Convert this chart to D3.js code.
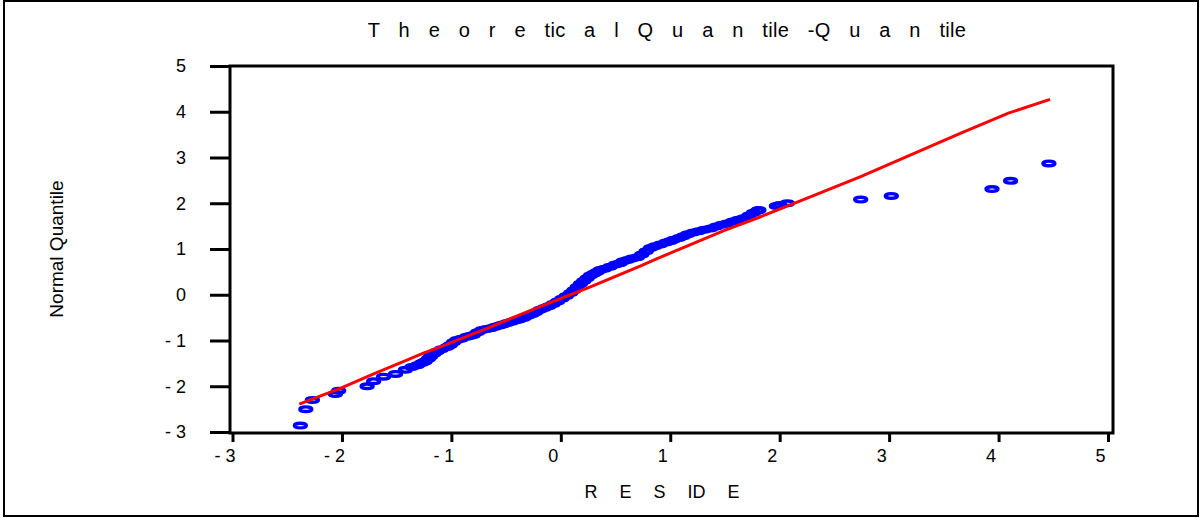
<!DOCTYPE html>
<html lang="en">
<head>
<meta charset="utf-8">
<title>Theoretical Quantile-Quantile</title>
<script src="https://d3js.org/d3.v7.min.js"></script>
<style>
  body { margin: 0; background: #fff; }
  text { font-family: "Liberation Sans", Arial, sans-serif; fill: #000; }
</style>
</head>
<body>
<script>
// residuals (x) and normal quantiles (y)
var resid = [-2.38,-2.33,-2.27,-2.06,-2.03,-1.77,-1.71,-1.62,-1.51,-1.42,-1.36,-1.31,-1.27,-1.24,-1.21,-1.19,-1.16,-1.13,-1.09,-1.04,-1.01,
  -0.98,-0.95,-0.91,-0.86,-0.83,-0.80,-0.76,-0.72,-0.68,-0.64,-0.60,-0.56,-0.53,-0.49,-0.45,-0.41,-0.38,-0.34,-0.30,-0.26,-0.23,-0.19,
  -0.15,-0.11,-0.07,-0.03,0.01,0.05,0.09,0.12,0.15,0.18,0.21,0.24,0.27,0.30,0.33,0.36,0.40,0.45,0.50,0.54,0.57,0.61,0.65,0.70,0.74,
  0.78,0.82,0.86,0.91,0.96,1.00,1.03,1.08,1.12,1.16,1.21,1.26,1.31,1.37,1.42,1.47,1.52,1.57,1.62,1.67,1.72,1.76,1.80,1.81,
  1.97,2.00,2.07,2.74,3.02,3.94,4.11,4.46];
var normq = [-2.86,-2.50,-2.30,-2.17,-2.10,-2.00,-1.89,-1.79,-1.73,-1.64,-1.58,-1.54,-1.49,-1.46,-1.40,-1.35,-1.29,-1.24,-1.19,-1.14,-1.10,
  -1.04,-0.99,-0.96,-0.92,-0.90,-0.88,-0.82,-0.77,-0.75,-0.73,-0.70,-0.67,-0.65,-0.62,-0.59,-0.56,-0.54,-0.51,-0.46,-0.42,-0.38,-0.33,
  -0.29,-0.25,-0.20,-0.15,-0.09,-0.03,0.04,0.10,0.17,0.24,0.30,0.36,0.42,0.46,0.50,0.54,0.57,0.61,0.66,0.69,0.73,0.76,0.79,0.82,0.88,
  0.95,1.02,1.06,1.10,1.14,1.17,1.20,1.24,1.28,1.32,1.36,1.39,1.42,1.45,1.49,1.53,1.56,1.60,1.64,1.67,1.73,1.79,1.84,1.85,
  1.94,1.96,2.00,2.08,2.16,2.31,2.49,2.87];

// reference line vertices
var lineX = [-2.39,-2.01,-1.71,-1.44,-1.25,-1.10,-0.64,-0.19,0.27,0.73,0.88,1.49,1.82,2.28,2.74,3.65,4.09,4.47];
var lineY = [-2.39,-2.04,-1.73,-1.46,-1.27,-1.14,-0.70,-0.26,0.17,0.63,0.79,1.40,1.70,2.14,2.58,3.53,3.97,4.27];

var xTicks = [-3,-2,-1,0,1,2,3,4,5];
var yTicks = [-3,-2,-1,0,1,2,3,4,5];

var width = 1200, height = 518;
var svg = d3.select("body").append("svg").attr("width", width).attr("height", height);

// outer border
svg.append("rect").attr("x", 4).attr("y", 1).attr("width", 1194).attr("height", 515)
  .attr("fill", "none").attr("stroke", "#000").attr("stroke-width", 2);

var x = d3.scaleLinear().domain([-3, 5]).range([232.5, 1108]);
var y = d3.scaleLinear().domain([-3, 5]).range([432, 66]);

var fmt = function(d) { return d < 0 ? "- " + Math.abs(d) : String(d); };

// x axis
var gx = svg.append("g").attr("transform", "translate(0,433)")
  .call(d3.axisBottom(x).tickValues(xTicks).tickSize(9).tickFormat(fmt));
gx.select(".domain").remove();
gx.selectAll("line").attr("stroke", "#000").attr("stroke-width", 3);
gx.selectAll("text").attr("x", -8).attr("y", 29).attr("dy", null)
  .attr("font-size", "18px").attr("font-family", "Liberation Sans, Arial, sans-serif");

// y axis
var gy = svg.append("g").attr("transform", "translate(230,0)")
  .call(d3.axisLeft(y).tickValues(yTicks).tickSize(20).tickFormat(fmt));
gy.select(".domain").remove();
gy.selectAll("line").attr("stroke", "#000").attr("stroke-width", 3);
gy.selectAll("text").attr("x", -44).attr("dy", "0.33em")
  .attr("font-size", "18px").attr("font-family", "Liberation Sans, Arial, sans-serif");

// points (open ovals)
var pts = resid.map(function(d, i) { return [d, normq[i]]; });
svg.append("g").selectAll("ellipse").data(pts).enter().append("ellipse")
  .attr("cx", function(d) { return x(d[0]); })
  .attr("cy", function(d) { return y(d[1]); })
  .attr("rx", 6).attr("ry", 2.3)
  .attr("fill", "none").attr("stroke", "#0000ff").attr("stroke-width", 3.4);

// reference line
var lpts = lineX.map(function(d, i) { return [d, lineY[i]]; });
svg.append("path").datum(lpts)
  .attr("d", d3.line().x(function(d) { return x(d[0]); }).y(function(d) { return y(d[1]); }))
  .attr("fill", "none").attr("stroke", "#ff0000").attr("stroke-width", 3);

// plot frame
svg.append("rect").attr("x", 230).attr("y", 66).attr("width", 883).attr("height", 367)
  .attr("fill", "none").attr("stroke", "#000").attr("stroke-width", 3);

// titles
svg.append("text").attr("x", 667).attr("y", 37).attr("text-anchor", "middle")
  .attr("font-size", "20px").attr("word-spacing", "12.8px").attr("letter-spacing", "0.3px")
  .text("T h e o r e tic a l Q u a n tile -Q u a n tile");

svg.append("text").attr("x", 662).attr("y", 498).attr("text-anchor", "middle")
  .attr("font-size", "18px").attr("word-spacing", "17px")
  .text("R E S ID E");

svg.append("text").attr("transform", "translate(63,249) rotate(-90)").attr("text-anchor", "middle")
  .attr("font-size", "19px").text("Normal Quantile");
</script>
</body>
</html>
